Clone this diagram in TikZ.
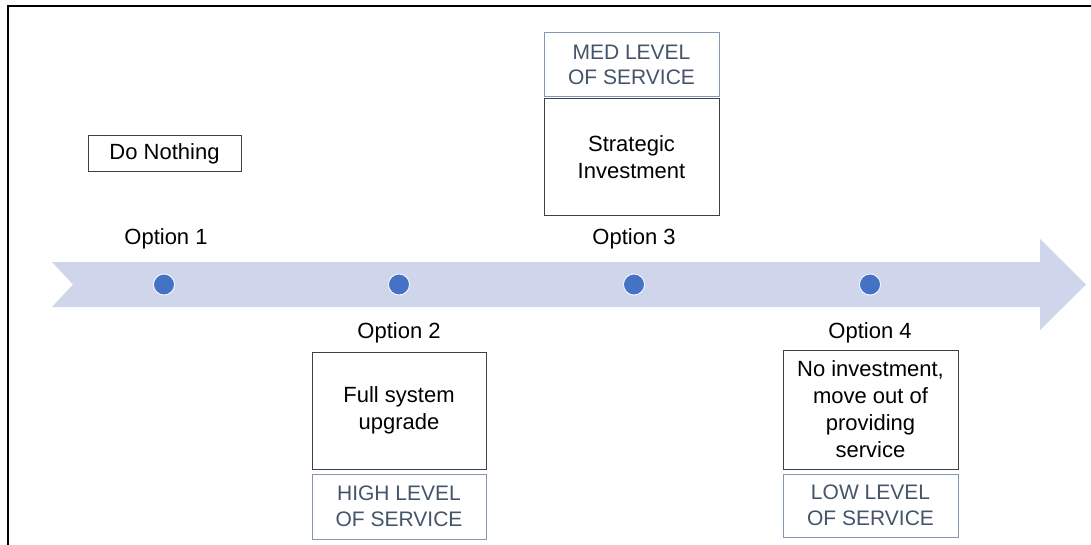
\documentclass[tikz,border=0pt]{standalone}
\usepackage{fontspec}
\setmainfont{Liberation Sans}
\definecolor{bandc}{HTML}{CFD5EA}
\definecolor{dotc}{HTML}{4472C4}
\definecolor{servtext}{HTML}{44546A}
\definecolor{servline}{HTML}{8497B0}
\definecolor{boxline}{HTML}{404040}
\begin{document}
\begin{tikzpicture}[x=1pt,y=-1pt,
  optbox/.style={draw=boxline,line width=1pt,fill=white,align=center,inner sep=0pt,
    font=\fontsize{22}{27}\selectfont},
  servbox/.style={draw=servline,line width=1pt,fill=white,align=center,inner sep=0pt,
    text=servtext,font=\fontsize{21}{25.5}\selectfont},
  optlabel/.style={font=\fontsize{22}{27}\selectfont,inner sep=0pt},
  dot/.style={circle,fill=dotc,draw=white,line width=0.8pt,minimum size=21pt,inner sep=0pt}]
\useasboundingbox (0,0) rectangle (1091,545);
\fill[white] (0,0) rectangle (1091,545);
\draw[line width=2pt] (8,545) -- (8,6.5) -- (1091,6.5);
% timeline arrow
\fill[bandc] (52,262) -- (1040,262) -- (1040,239) -- (1086,284.5) -- (1040,330)
  -- (1040,307) -- (52,307) -- (73,284.5) -- cycle;
% dots
\node[dot] (d1) at (164,284.5) {};
\node[dot] (d2) at (399,284.5) {};
\node[dot] (d3) at (634,284.5) {};
\node[dot] (d4) at (870,284.5) {};
% option labels
\node[optlabel] (o1) at (166,239) {Option 1};
\node[optlabel] (o2) at (399,333) {Option 2};
\node[optlabel] (o3) at (634,239) {Option 3};
\node[optlabel] (o4) at (870,333) {Option 4};
% option 1
\node[optbox,minimum width=153pt,minimum height=36pt] (b1) at (164.5,154) {\raisebox{-2pt}{Do Nothing}};
% option 2
\node[optbox,minimum width=174pt,minimum height=117pt] (b2) at (399,410.5) {Full system\\upgrade};
\node[servbox,minimum width=174pt,minimum height=65pt] (s2) at (399,506.5) {HIGH LEVEL\\OF SERVICE};
% option 3
\node[servbox,minimum width=175pt,minimum height=64pt] (s3) at (631.5,65) {MED LEVEL\\OF SERVICE};
\node[optbox,minimum width=175pt,minimum height=117pt] (b3) at (631.5,157.5) {Strategic\\Investment};
% option 4
\node[optbox,minimum width=175pt,minimum height=119pt] (b4) at (870.5,409.5) {No investment,\\move out of\\providing\\service};
\node[servbox,minimum width=175pt,minimum height=63pt] (s4) at (870.5,505.5) {LOW LEVEL\\OF SERVICE};
\end{tikzpicture}
\end{document}
